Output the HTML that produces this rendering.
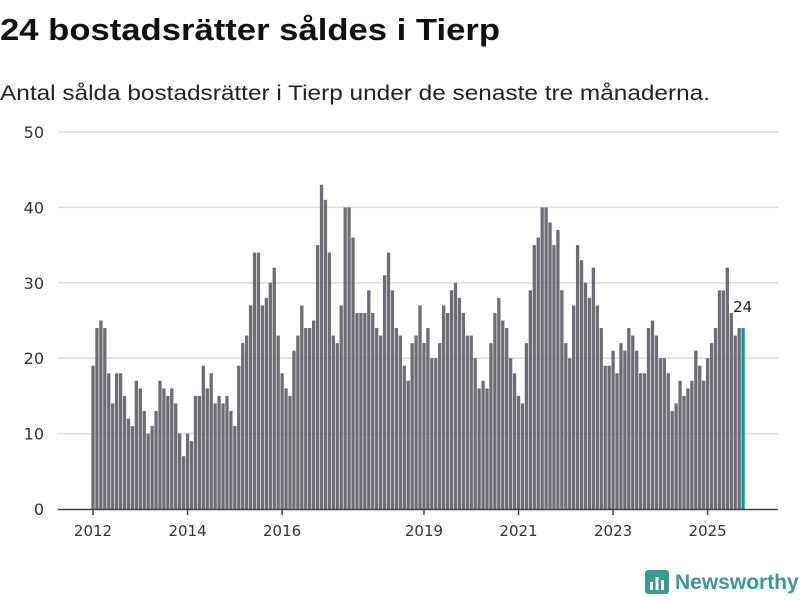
<!DOCTYPE html>
<html><head><meta charset="utf-8">
<style>
body{margin:0;background:#fff;font-family:"DejaVu Sans","Liberation Sans",sans-serif;}
#wrap{position:relative;width:800px;height:600px;overflow:hidden;}
.logo{position:absolute;left:645px;top:570px;display:flex;align-items:center;gap:6px;color:#3a9a8f;font-size:21px;font-weight:bold;font-family:"Liberation Sans",sans-serif;}
</style></head><body>
<div id="wrap">
<svg id="chart" width="800" height="600" style="position:absolute;left:0;top:0">
<text x="0" y="40" font-size="31" font-weight="bold" fill="#111" font-family="Liberation Sans, sans-serif" textLength="500" lengthAdjust="spacingAndGlyphs">24 bostadsrätter såldes i Tierp</text>
<text x="0" y="100" font-size="21" fill="#222" font-family="Liberation Sans, sans-serif" textLength="710" lengthAdjust="spacingAndGlyphs">Antal sålda bostadsrätter i Tierp under de senaste tre månaderna.</text>
</svg>
<div class="logo">
<svg width="24" height="26"><rect x="0" y="0" width="24" height="24" rx="3" fill="#3a9a8f"/><rect x="5" y="12" width="3" height="8" fill="#fff"/><rect x="10.5" y="7" width="3" height="13" fill="#fff"/><rect x="16" y="10" width="3" height="10" fill="#fff"/></svg>
<span>Newsworthy</span></div>
</div>
<script>
const values=[19,24,25,24,18,14,18,18,15,12,11,17,
16,13,10,11,13,17,16,15,16,14,10,7,
10,9,15,15,19,16,18,14,15,14,15,13,
11,19,22,23,27,34,34,27,28,30,32,23,
18,16,15,21,23,27,24,24,25,35,43,41,
34,23,22,27,40,40,36,26,26,26,29,26,
24,23,31,34,29,24,23,19,17,22,23,27,
22,24,20,20,22,27,26,29,30,28,26,23,
23,20,16,17,16,22,26,28,25,24,20,18,
15,14,22,29,35,36,40,40,38,35,37,29,
22,20,27,35,33,30,28,32,27,24,19,19,
21,18,22,21,24,23,21,18,18,24,25,23,
20,20,18,13,14,17,15,16,17,21,19,17,
20,22,24,29,29,32,26,23,24,24];
const startYear=2012;
const yTicks=[0,10,20,30,40,50];
const xTickYears=[2012,2014,2016,2019,2021,2023,2025];
const NS="http://www.w3.org/2000/svg";
const svg=document.getElementById('chart');
const y=v=>509-v*7.54;
const x=i=>93+i*3.94;
function mk(t,a){const e=document.createElementNS(NS,t);for(const k in a)e.setAttribute(k,a[k]);svg.appendChild(e);return e;}
yTicks.forEach(t=>{
  if(t>0){const g=mk('line',{x1:58,x2:778,y1:y(t),y2:y(t),stroke:'#dedede','stroke-width':1.5});
  
  }
  const l=mk('text',{x:44,y:y(t)+6,'text-anchor':'end','font-size':16,fill:'#333','font-family':'DejaVu Sans, sans-serif'});
  l.textContent=t;
  
  
});
values.forEach((v,i)=>{
  const last=i===values.length-1;
  const r=mk('rect',{x:x(i)-1.65,y:y(v),width:3.3,height:v*7.54,fill:last?'#00a19a':'#6e6d73'});
  
  
});
const li=values.length-1;
const vl=mk('text',{x:x(li)-10,y:y(values[li])-16,'font-size':15,fill:'#222','font-family':'DejaVu Sans, sans-serif'});
vl.textContent=values[li];


const ax=mk('line',{x1:58,x2:778,y1:509.5,y2:509.5,stroke:'#444','stroke-width':1.5});


xTickYears.forEach(yr=>{
  const i=(yr-startYear)*12;
  const t=mk('line',{x1:x(i),x2:x(i),y1:509,y2:515,stroke:'#444','stroke-width':1.5});
  
  
  const l=mk('text',{x:x(i),y:536,'text-anchor':'middle','font-size':15,fill:'#333','font-family':'DejaVu Sans, sans-serif'});
  l.textContent=yr;
  
  
});
</script>
</body></html>
